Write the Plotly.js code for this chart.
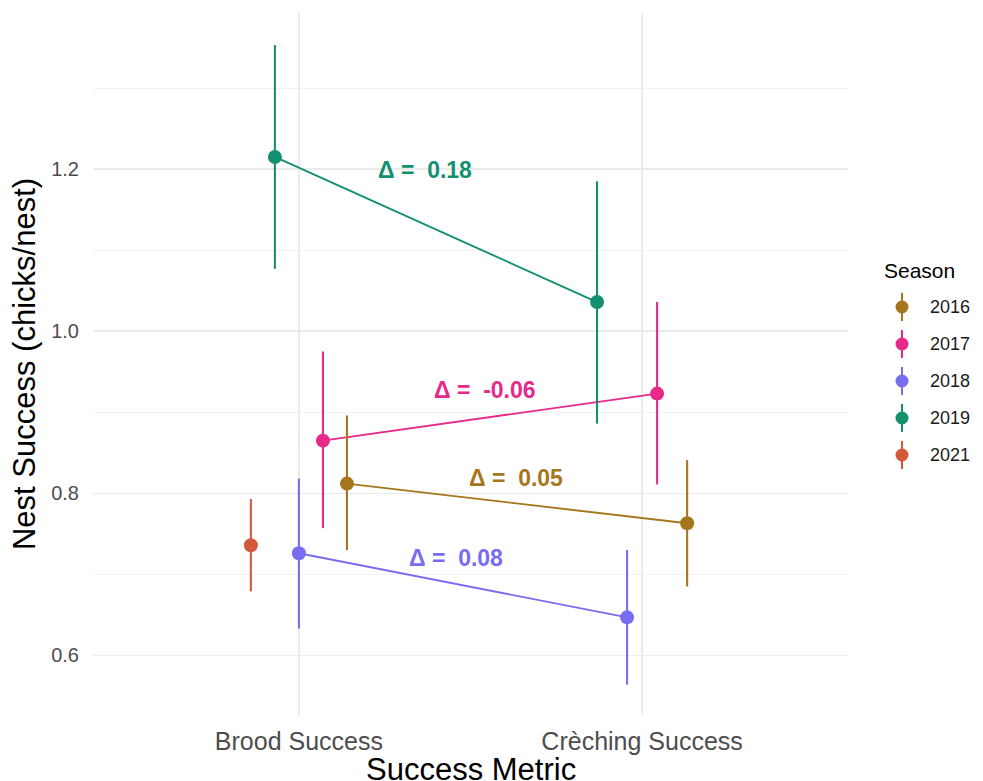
<!DOCTYPE html>
<html>
<head>
<meta charset="utf-8">
<script src="https://cdn.plot.ly/plotly-3.0.1.min.js"></script>
<style>html,body{margin:0;padding:0;background:#fff;}#chart{width:983px;height:781px;}</style>
</head>
<body>
<div id="chart"></div>
<script>
// ---- data ----
const seasons = ['2016', '2017', '2018', '2019', '2021'];
const metrics = ['Brood Success', 'Crèching Success'];
const broodMean = [0.812, 0.865, 0.726, 1.215, 0.736];
const broodLo   = [0.730, 0.757, 0.633, 1.077, 0.679];
const broodHi   = [0.896, 0.975, 0.818, 1.353, 0.793];
const crecheMean = [0.763, 0.923, 0.647, 1.036, null];
const crecheLo   = [0.685, 0.811, 0.564, 0.886, null];
const crecheHi   = [0.841, 1.036, 0.730, 1.185, null];
const deltas = [0.05, -0.06, 0.08, 0.18, null];
const yTicks = [0.6, 0.8, 1.0, 1.2];
const xTitle = 'Success Metric';
const yTitle = 'Nest Success (chicks/nest)';
const legendTitle = 'Season';

// ---- style / layout ----
const colors = {'2016': '#a6761d', '2017': '#e7298a', '2018': '#786df0', '2019': '#139070', '2021': '#d2583a'};
const FONT = 'Liberation Sans, Arial, sans-serif';
const W = 983, H = 781, M = {l: 93, r: 135, t: 13, b: 66};
const pw = W - M.l - M.r, ph = H - M.t - M.b;
const px2x = p => (p - M.l) / pw;
const py2y = p => (H - M.b - p) / ph;
const dodgeWidth = 0.35;
// delta label anchor positions (data units)
const labelPos = {'2016': [0.632, 0.8185], '2017': [0.542, 0.927], '2018': [0.457, 0.720], '2019': [0.367, 1.199]};

const means = [broodMean, crecheMean], los = [broodLo, crecheLo], his = [broodHi, crecheHi];

// dodge positions (like position_dodge): order is descending season
function dodgeX(mi, si) {
  const order = seasons.map((s, i) => i).reverse().filter(i => means[mi][i] !== null);
  const n = order.length;
  const k = order.indexOf(si);
  return mi + (k - (n - 1) / 2) * (dodgeWidth / n);
}

const lineTraces = [], pointTraces = [];
seasons.forEach((s, si) => {
  const xs = [], ys = [], up = [], dn = [];
  metrics.forEach((m, mi) => {
    if (means[mi][si] === null) return;
    xs.push(dodgeX(mi, si));
    ys.push(means[mi][si]);
    up.push(his[mi][si] - means[mi][si]);
    dn.push(means[mi][si] - los[mi][si]);
  });
  if (xs.length > 1) {
    lineTraces.push({x: xs, y: ys, type: 'scatter', mode: 'lines', line: {color: colors[s], width: 1.9}, showlegend: false, hoverinfo: 'skip'});
  }
  pointTraces.push({
    x: xs, y: ys, type: 'scatter', mode: 'markers', name: s, showlegend: false,
    marker: {color: colors[s], size: 14},
    error_y: {type: 'data', symmetric: false, array: up, arrayminus: dn, width: 0, thickness: 2.1, color: colors[s]}
  });
});

const annotations = [];
seasons.forEach((s, si) => {
  if (deltas[si] === null) return;
  annotations.push({
    x: labelPos[s][0], y: labelPos[s][1], xref: 'x', yref: 'y', showarrow: false,
    text: 'Δ = \u00a0' + deltas[si].toFixed(2),
    font: {family: FONT, size: 23, color: colors[s], weight: 'bold'},
    xanchor: 'center', yanchor: 'middle'
  });
});

// x axis title
annotations.push({x: 0.5, y: py2y(769), xref: 'paper', yref: 'paper', showarrow: false, text: xTitle,
  font: {family: FONT, size: 31, color: '#000'}, xanchor: 'center', yanchor: 'middle'});

// manual legend
const shapes = [];
annotations.push({x: px2x(882), y: py2y(270), xref: 'paper', yref: 'paper', showarrow: false, text: legendTitle,
  font: {family: FONT, size: 21, color: '#000'}, xanchor: 'left', yanchor: 'middle'});
seasons.forEach((s, i) => {
  const yc = 307 + i * 37;
  shapes.push({type: 'line', xref: 'paper', yref: 'paper', x0: px2x(902), x1: px2x(902), y0: py2y(yc - 14), y1: py2y(yc + 14),
    line: {color: colors[s], width: 2}});
  shapes.push({type: 'circle', xref: 'paper', yref: 'paper', xsizemode: 'pixel', ysizemode: 'pixel',
    xanchor: px2x(902), yanchor: py2y(yc), x0: -6.5, x1: 6.5, y0: -6.5, y1: 6.5,
    fillcolor: colors[s], line: {color: colors[s], width: 0}});
  annotations.push({x: px2x(928), y: py2y(yc), xref: 'paper', yref: 'paper', showarrow: false, text: s,
    font: {family: FONT, size: 18, color: '#1a1a1a'}, xanchor: 'left', yanchor: 'middle'});
});

const layout = {
  width: W, height: H, autosize: false,
  margin: {l: M.l, r: M.r, t: M.t, b: M.b, pad: 0},
  paper_bgcolor: '#fff', plot_bgcolor: '#fff',
  font: {family: FONT},
  showlegend: false,
  xaxis: {
    range: [-0.6, 1.6], tickvals: [0, 1], ticktext: metrics,
    showgrid: true, gridcolor: '#ebebeb', gridwidth: 1.5, zeroline: false, showline: false,
    ticks: 'outside', ticklen: 4, tickcolor: 'rgba(0,0,0,0)',
    tickfont: {family: FONT, size: 25, color: '#4d4d4d'},
    automargin: false, fixedrange: true
  },
  yaxis: {
    range: [0.5265, 1.3926], tickvals: yTicks, ticktext: yTicks.map(v => v.toFixed(1)),
    showgrid: true, gridcolor: '#ebebeb', gridwidth: 1.5, zeroline: false, showline: false,
    minor: {dtick: 0.1, tick0: 0, showgrid: true, gridcolor: '#f2f2f2', gridwidth: 1, ticks: ''},
    ticks: 'outside', ticklen: 9, tickcolor: 'rgba(0,0,0,0)',
    tickfont: {family: FONT, size: 20, color: '#4d4d4d'},
    title: {text: yTitle, font: {family: FONT, size: 31, color: '#000'}, standoff: 6},
    automargin: false, fixedrange: true
  },
  annotations: annotations,
  shapes: shapes
};

Plotly.newPlot('chart', lineTraces.concat(pointTraces), layout, {displayModeBar: false, staticPlot: true});
</script>
</body>
</html>
